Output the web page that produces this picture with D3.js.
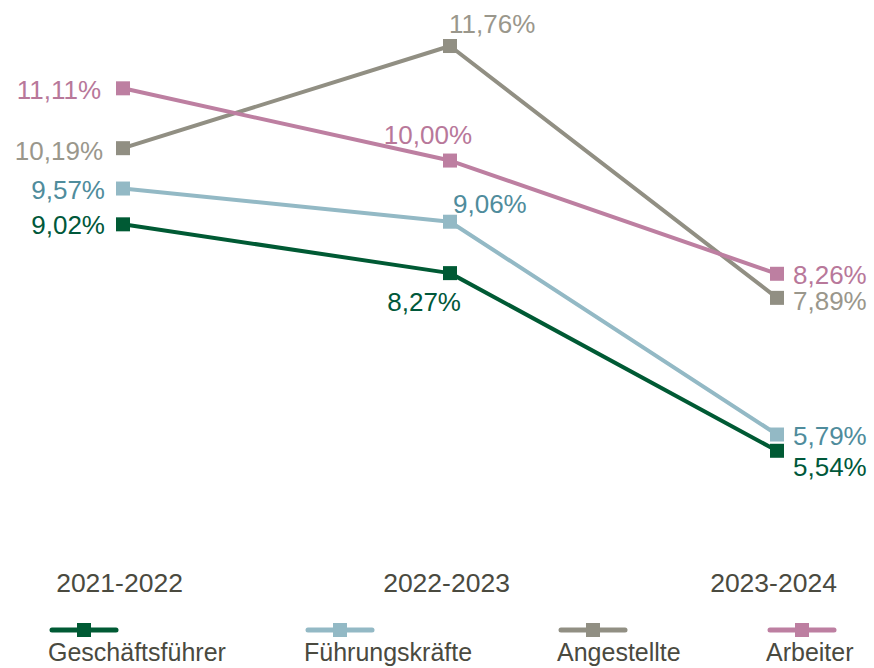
<!DOCTYPE html>
<html>
<head>
<meta charset="utf-8">
<script src="https://cdn.jsdelivr.net/npm/d3@7"></script>
<style>
  body { margin: 0; background: #fff; }
  text { font-family: "Liberation Sans", Arial, sans-serif; }
</style>
</head>
<body>
<div id="chart"></div>
<script>
var periods = ["2021-2022", "2022-2023", "2023-2024"];
var seriesNames = ["Geschäftsführer", "Führungskräfte", "Angestellte", "Arbeiter"];
var geschaeftsfuehrer = [9.02, 8.27, 5.54];
var fuehrungskraefte = [9.57, 9.06, 5.79];
var angestellte = [10.19, 11.76, 7.89];
var arbeiter = [11.11, 10.00, 8.26];

var lineColors = ["#005a34", "#93b9c5", "#918f83", "#bd7fa1"];
var textColors = ["#00583a", "#4f8c9c", "#9a978c", "#b8789a"];

// label placement per series/point: [dx, dy, anchor]
var labelPos = [
  [[-18, 10, "end"], [11, 38, "end"], [16, 25, "start"]],
  [[-18, 10, "end"], [3, -9, "start"], [16, 10, "start"]],
  [[-20, 12, "end"], [-1, -13, "start"], [16, 12, "start"]],
  [[-22, 11, "end"], [22, -17, "end"], [16, 10, "start"]]
];

var width = 874, height = 668;
var svg = d3.select("#chart").append("svg")
  .attr("width", width).attr("height", height);

var x = d3.scalePoint().domain(periods).range([123, 777]);
var y = d3.scaleLinear().domain([4, 12]).range([551, 30.4]);

var allSeries = [geschaeftsfuehrer, fuehrungskraefte, angestellte, arbeiter];
var fmt = function(v) { return v.toFixed(2).replace(".", ",") + "%"; };

var line = d3.line()
  .x(function(d, i) { return x(periods[i]); })
  .y(function(d) { return y(d); });

allSeries.forEach(function(vals, s) {
  var g = svg.append("g");
  g.append("path")
    .attr("d", line(vals))
    .attr("fill", "none")
    .attr("stroke", lineColors[s])
    .attr("stroke-width", 4)
    .attr("stroke-linejoin", "round");
  g.selectAll("rect")
    .data(vals)
    .enter().append("rect")
    .attr("x", function(d, i) { return x(periods[i]) - 7; })
    .attr("y", function(d) { return y(d) - 7; })
    .attr("width", 14)
    .attr("height", 14)
    .attr("fill", lineColors[s]);
  g.selectAll("text")
    .data(vals)
    .enter().append("text")
    .attr("x", function(d, i) { return x(periods[i]) + labelPos[s][i][0]; })
    .attr("y", function(d, i) { return y(d) + labelPos[s][i][1]; })
    .attr("text-anchor", function(d, i) { return labelPos[s][i][2]; })
    .attr("font-size", 26)
    .attr("fill", textColors[s])
    .text(fmt);
});

// category labels along the bottom
var xAxis = d3.axisBottom(x).tickSize(0).tickPadding(0);
var axisG = svg.append("g")
  .attr("transform", "translate(-4,573)")
  .call(xAxis);
axisG.select(".domain").remove();
axisG.selectAll("text")
  .attr("font-size", 26.5)
  .attr("fill", "#4a4a3f")
  .attr("dy", "0.71em")
  .style("font-family", "'Liberation Sans', Arial, sans-serif");

// legend
var legendX = [52, 308, 561, 770];
var legend = svg.append("g");
seriesNames.forEach(function(name, s) {
  var lg = legend.append("g").attr("transform", "translate(" + legendX[s] + ",630)");
  lg.append("line")
    .attr("x1", 0).attr("x2", 64)
    .attr("stroke", lineColors[s])
    .attr("stroke-width", 5)
    .attr("stroke-linecap", "round");
  lg.append("rect")
    .attr("x", 25).attr("y", -7)
    .attr("width", 14).attr("height", 14)
    .attr("fill", lineColors[s]);
  lg.append("text")
    .attr("x", -4)
    .attr("y", 31)
    .attr("font-size", 25)
    .attr("fill", "#4a4a3f")
    .text(name);
});
</script>
</body>
</html>
